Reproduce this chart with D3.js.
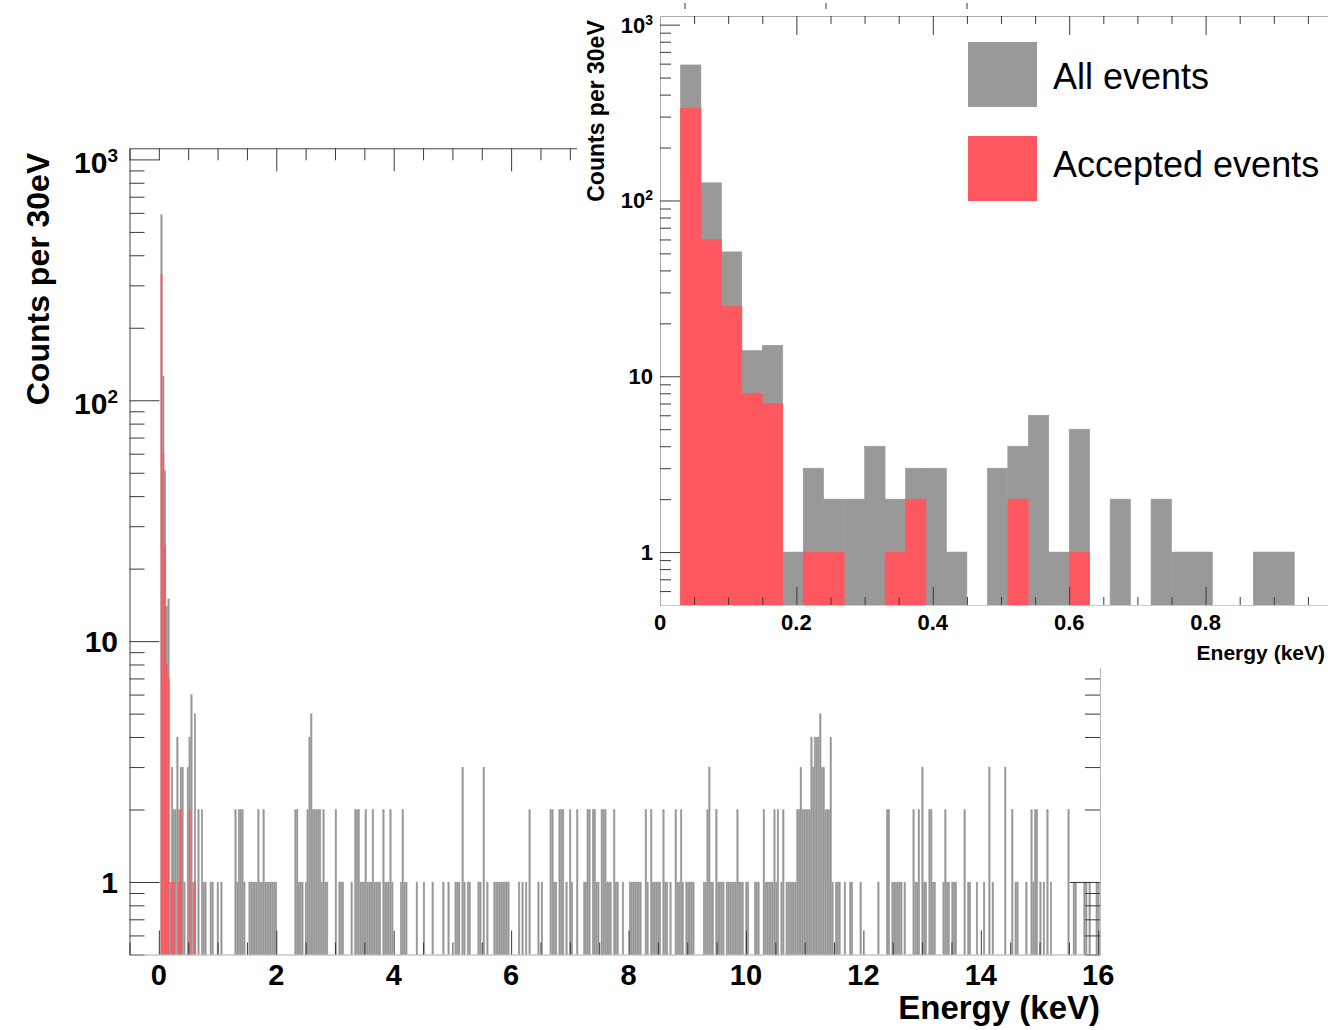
<!DOCTYPE html>
<html>
<head>
<meta charset="utf-8">
<script src="https://cdn.jsdelivr.net/npm/d3@7"></script>
<style>
	body { margin: 0; background: #fff; }
	svg { display: block; }
	text { font-family: "Liberation Sans", Arial, Helvetica, sans-serif; }
</style>
</head>
<body>
<div id="my_dataviz"></div>
<script>
// bin width of the histogram, keV
const binWidth = 0.03;

// all events, counts per 30 eV bin starting at 0 keV (20 bins per row)
const allCounts = [
	0, 590, 126, 51, 14, 15, 1, 3, 2, 2, 4, 2, 3, 3, 1, 0, 3, 4, 6, 1,
	5, 0, 2, 0, 2, 1, 1, 0, 0, 1, 1, 0, 0, 1, 0, 1, 0, 0, 0, 0,
	0, 0, 0, 2, 1, 2, 2, 2, 1, 0, 0, 1, 1, 1, 1, 1, 2, 1, 1, 2,
	1, 1, 1, 1, 1, 1, 1, 0, 0, 0, 0, 0, 0, 0, 0, 0, 0, 2, 2, 1,
	1, 1, 0, 1, 2, 4, 5, 2, 2, 2, 2, 2, 1, 2, 1, 1, 0, 0, 0, 0,
	2, 0, 1, 1, 1, 0, 0, 0, 0, 1, 0, 2, 2, 2, 1, 1, 1, 2, 1, 1,
	1, 2, 1, 1, 1, 1, 0, 2, 1, 1, 1, 2, 1, 0, 0, 0, 0, 1, 2, 1,
	1, 0, 0, 0, 0, 0, 1, 0, 0, 0, 1, 0, 0, 0, 0, 1, 0, 0, 0, 0,
	0, 1, 0, 0, 1, 0, 0, 0, 1, 1, 1, 0, 3, 1, 0, 1, 1, 0, 0, 0,
	0, 1, 1, 0, 3, 0, 1, 0, 0, 0, 1, 1, 1, 1, 1, 1, 1, 1, 1, 0,
	0, 0, 0, 0, 1, 0, 1, 0, 1, 0, 2, 0, 0, 0, 0, 1, 0, 1, 0, 0,
	0, 0, 2, 2, 1, 1, 0, 2, 2, 2, 0, 1, 0, 2, 1, 0, 0, 2, 0, 0,
	0, 1, 1, 2, 2, 0, 2, 2, 1, 1, 0, 2, 2, 2, 1, 1, 1, 0, 2, 1,
	1, 0, 0, 1, 0, 0, 0, 1, 1, 1, 1, 1, 1, 1, 0, 0, 2, 1, 0, 2,
	1, 1, 1, 1, 1, 0, 2, 1, 1, 0, 1, 0, 0, 2, 1, 1, 2, 1, 0, 1,
	1, 1, 1, 1, 0, 0, 0, 0, 0, 1, 1, 2, 3, 1, 1, 0, 2, 1, 1, 1,
	1, 0, 1, 1, 1, 1, 1, 1, 2, 1, 1, 1, 0, 1, 1, 0, 0, 0, 1, 1,
	1, 0, 0, 2, 1, 1, 1, 1, 1, 2, 1, 2, 0, 1, 2, 0, 1, 1, 1, 1,
	1, 1, 2, 2, 3, 2, 2, 2, 2, 2, 4, 3, 4, 4, 4, 5, 3, 3, 2, 2,
	2, 4, 1, 0, 1, 1, 1, 0, 0, 1, 0, 0, 1, 1, 0, 0, 0, 0, 1, 0,
	0, 0, 0, 0, 0, 0, 0, 0, 1, 0, 0, 0, 0, 2, 2, 0, 1, 1, 1, 1,
	1, 1, 0, 1, 0, 0, 0, 0, 2, 1, 1, 2, 0, 3, 1, 1, 0, 2, 2, 1,
	1, 0, 0, 0, 0, 1, 2, 1, 1, 0, 1, 1, 1, 0, 0, 0, 0, 2, 0, 1,
	1, 0, 0, 0, 1, 0, 0, 0, 1, 0, 0, 3, 0, 1, 0, 0, 0, 0, 0, 0,
	3, 0, 0, 0, 2, 0, 1, 1, 0, 0, 0, 0, 1, 0, 0, 2, 1, 2, 2, 0,
	1, 0, 1, 0, 2, 0, 1, 0, 0, 0, 0, 0, 0, 0, 0, 0, 2, 0, 0, 1,
	1, 0, 0, 0, 0, 1, 1, 0, 1, 0, 0, 0, 1, 1
];

// accepted events, same bins (all later bins are empty)
const acceptedCounts = [
	0, 335, 60, 25, 8, 7, 0, 1, 1, 0, 0, 1, 2, 0, 0, 0, 0, 2, 0, 0,
	1
];

// axis ticks and labels
const decadeTicks = [1, 10, 100, 1000];
const decadeLabels = [["1", ""], ["10", ""], ["10", "2"], ["10", "3"]];
const mainXTicks = [0, 2, 4, 6, 8, 10, 12, 14, 16];
const insetXTicks = [0, 0.2, 0.4, 0.6, 0.8];
const insetXLabels = ["0", "0.2", "0.4", "0.6", "0.8"];
const seriesNames = ["All events", "Accepted events"];
const seriesColors = ["#999999", "#ff5760"];

const bins = allCounts.map((c, i) => ({
	x0: i * binWidth,
	x1: (i + 1) * binWidth,
	all: c,
	acc: acceptedCounts[i] || 0
}));

// minor ticks of a log axis between 0.5 and max
function logMinor(max) {
	const out = [];
	[0.1, 1, 10, 100, 1000].forEach(d => {
		for (let k = 2; k <= 9; k++) {
			const v = d * k;
			if (v >= 0.5 && v <= max) out.push(v);
		}
	});
	return out;
}

const svg = d3.select("#my_dataviz")
	.append("svg")
	.attr("width", 1328)
	.attr("height", 1030);

// ---------------- main plot ----------------
const x = d3.scaleLinear().domain([-0.5, 16.03]).range([129.5, 1100]);
const y = d3.scaleLog().domain([0.5, 1112]).range([954.5, 148.3]);

const main = svg.append("g");

// gray histogram
main.append("g")
	.selectAll("rect")
	.data(bins.filter(d => d.all > 0))
	.join("rect")
	.attr("x", d => x(d.x0))
	.attr("width", d => x(d.x1) - x(d.x0))
	.attr("y", d => y(d.all))
	.attr("height", d => y(0.5) - y(d.all))
	.attr("fill", "#979797")
	.attr("stroke", "#a6a6a6")
	.attr("stroke-width", 0.3);

// red histogram
main.append("g")
	.selectAll("rect")
	.data(bins.filter(d => d.acc > 0))
	.join("rect")
	.attr("x", d => x(d.x0))
	.attr("width", d => x(d.x1) - x(d.x0))
	.attr("y", d => y(d.acc))
	.attr("height", d => y(0.5) - y(d.acc))
	.attr("fill", seriesColors[1]);

const mainMinorX = d3.range(-0.5, 16.01, 0.5).filter(v => v % 2 !== 0);
const mainMinorY = logMinor(1112);

function styleAxis(g, color) {
	g.attr("color", "#3a3a3a");
	g.select(".domain").attr("stroke", color || "none");
	g.selectAll(".tick text").remove();
}

// left axis
main.append("g")
	.attr("transform", `translate(${x(-0.5)},0)`)
	.call(d3.axisLeft(y).tickValues(decadeTicks).tickSize(-30).tickSizeOuter(0))
	.call(g => styleAxis(g, "#444"));
main.append("g")
	.attr("transform", `translate(${x(-0.5)},0)`)
	.call(d3.axisLeft(y).tickValues(mainMinorY).tickSize(-15).tickSizeOuter(0))
	.call(g => styleAxis(g));

// right axis
main.append("g")
	.attr("transform", `translate(${x(16.03)},0)`)
	.call(d3.axisRight(y).tickValues(decadeTicks).tickSize(-30).tickSizeOuter(0))
	.call(g => styleAxis(g, "#bbb"));
main.append("g")
	.attr("transform", `translate(${x(16.03)},0)`)
	.call(d3.axisRight(y).tickValues(mainMinorY).tickSize(-15).tickSizeOuter(0))
	.call(g => styleAxis(g));

// top axis
main.append("g")
	.attr("transform", `translate(0,${y(1112)})`)
	.call(d3.axisTop(x).tickValues(mainXTicks.filter(v => v > 0)).tickSize(-23).tickSizeOuter(0))
	.call(g => styleAxis(g, "#444"));
main.append("g")
	.attr("transform", `translate(0,${y(1112)})`)
	.call(d3.axisTop(x).tickValues(mainMinorX.concat([0])).tickSize(-12).tickSizeOuter(0))
	.call(g => styleAxis(g));

// bottom axis
main.append("g")
	.attr("transform", `translate(0,${y(0.5)})`)
	.call(d3.axisBottom(x).tickValues(mainXTicks).tickSize(-24).tickSizeOuter(0))
	.call(g => styleAxis(g, "#aaa"));
main.append("g")
	.attr("transform", `translate(0,${y(0.5)})`)
	.call(d3.axisBottom(x).tickValues(mainMinorX).tickSize(-12).tickSizeOuter(0))
	.call(g => styleAxis(g));

// x tick labels
main.append("g")
	.selectAll("text")
	.data(mainXTicks)
	.join("text")
	.attr("x", d => x(d))
	.attr("y", 985)
	.attr("text-anchor", "middle")
	.style("font-size", "29px")
	.style("font-weight", "bold")
	.text(d => d);

// y tick labels
const yLab = main.append("g")
	.selectAll("text")
	.data(decadeTicks)
	.join("text")
	.attr("x", 118)
	.attr("y", (d, i) => y(d) + (decadeLabels[i][1] ? 14 : 11))
	.attr("text-anchor", "end")
	.style("font-size", "30px")
	.style("font-weight", "bold")
	.text((d, i) => decadeLabels[i][0]);
yLab.filter((d, i) => decadeLabels[i][1])
	.append("tspan")
	.attr("dy", -11)
	.style("font-size", "19px")
	.text(d => decadeLabels[decadeTicks.indexOf(d)][1]);

// axis titles
main.append("text")
	.attr("transform", "translate(49,279) rotate(-90)")
	.attr("text-anchor", "middle")
	.style("font-size", "32px")
	.style("font-weight", "bold")
	.text("Counts per 30eV");

main.append("text")
	.attr("x", 1100)
	.attr("y", 1019)
	.attr("text-anchor", "end")
	.style("font-size", "33px")
	.style("font-weight", "bold")
	.text("Energy (keV)");

// ---------------- inset ----------------
const ix = d3.scaleLinear().domain([0, 1]).range([660, 1342]);
const iy = d3.scaleLog().domain([0.5, 1120]).range([605, 16]);

const inset = svg.append("g");

inset.append("rect")
	.attr("x", 577)
	.attr("y", 0)
	.attr("width", 1328 - 577)
	.attr("height", 668)
	.attr("fill", "#fff");

// small ticks above the inset frame
inset.append("g")
	.selectAll("line")
	.data(d3.range(3))
	.join("line")
	.attr("x1", d => 685 + d * 141)
	.attr("x2", d => 685 + d * 141)
	.attr("y1", 3)
	.attr("y2", 9)
	.attr("stroke", "#555")
	.attr("stroke-width", 1.2);

inset.append("clipPath")
	.attr("id", "insetClip")
	.append("rect")
	.attr("x", 660)
	.attr("y", 16)
	.attr("width", 1328 - 660)
	.attr("height", 605 - 16);

const insetBins = bins.filter(d => d.x0 < 1);

inset.append("g")
	.attr("clip-path", "url(#insetClip)")
	.selectAll("rect")
	.data(insetBins.filter(d => d.all > 0))
	.join("rect")
	.attr("x", d => ix(d.x0))
	.attr("width", d => ix(d.x1) - ix(d.x0))
	.attr("y", d => iy(d.all))
	.attr("height", d => iy(0.5) - iy(d.all))
	.attr("fill", seriesColors[0])
	.attr("stroke", seriesColors[0])
	.attr("stroke-width", 0.6);

inset.append("g")
	.attr("clip-path", "url(#insetClip)")
	.selectAll("rect")
	.data(insetBins.filter(d => d.acc > 0))
	.join("rect")
	.attr("x", d => ix(d.x0))
	.attr("width", d => ix(d.x1) - ix(d.x0))
	.attr("y", d => iy(d.acc))
	.attr("height", d => iy(0.5) - iy(d.acc))
	.attr("fill", seriesColors[1])
	.attr("stroke", seriesColors[1])
	.attr("stroke-width", 0.6);

const insetMinorX = d3.range(0.05, 1.0, 0.05).filter(v => Math.abs(v / 0.2 - Math.round(v / 0.2)) > 1e-6);
const insetMinorY = logMinor(1120);

// inset left axis
inset.append("g")
	.attr("transform", `translate(${ix(0)},0)`)
	.call(d3.axisLeft(iy).tickValues(decadeTicks).tickSize(-20).tickSizeOuter(0))
	.call(g => styleAxis(g, "#aaa"));
inset.append("g")
	.attr("transform", `translate(${ix(0)},0)`)
	.call(d3.axisLeft(iy).tickValues(insetMinorY).tickSize(-11).tickSizeOuter(0))
	.call(g => styleAxis(g));

// inset top axis
inset.append("g")
	.attr("transform", `translate(0,${iy(1120)})`)
	.call(d3.axisTop(ix).tickValues(insetXTicks.filter(v => v > 0)).tickSize(-19).tickSizeOuter(0))
	.call(g => styleAxis(g, "#aaa"));
inset.append("g")
	.attr("transform", `translate(0,${iy(1120)})`)
	.call(d3.axisTop(ix).tickValues(insetMinorX).tickSize(-8).tickSizeOuter(0))
	.call(g => styleAxis(g));

// inset bottom axis
inset.append("g")
	.attr("transform", `translate(0,${iy(0.5)})`)
	.call(d3.axisBottom(ix).tickValues(insetXTicks.filter(v => v > 0)).tickSize(-18).tickSizeOuter(0))
	.call(g => styleAxis(g, "#f3b9bd"));
inset.append("g")
	.attr("transform", `translate(0,${iy(0.5)})`)
	.call(d3.axisBottom(ix).tickValues(insetMinorX).tickSize(-8).tickSizeOuter(0))
	.call(g => styleAxis(g));

// inset tick labels
inset.append("g")
	.selectAll("text")
	.data(insetXTicks)
	.join("text")
	.attr("x", d => ix(d))
	.attr("y", 630)
	.attr("text-anchor", "middle")
	.style("font-size", "22px")
	.style("font-weight", "bold")
	.text((d, i) => insetXLabels[i]);

const iyLab = inset.append("g")
	.selectAll("text")
	.data(decadeTicks)
	.join("text")
	.attr("x", 653)
	.attr("y", d => iy(d) + 8)
	.attr("text-anchor", "end")
	.style("font-size", "22px")
	.style("font-weight", "bold")
	.text((d, i) => decadeLabels[i][0]);
iyLab.filter((d, i) => decadeLabels[i][1])
	.append("tspan")
	.attr("dy", -8)
	.style("font-size", "14px")
	.text(d => decadeLabels[decadeTicks.indexOf(d)][1]);

inset.append("text")
	.attr("transform", "translate(604,111) rotate(-90)")
	.attr("text-anchor", "middle")
	.style("font-size", "23px")
	.style("font-weight", "bold")
	.text("Counts per 30eV");

// kept inside the picture and below the 0.8 label
inset.append("text")
	.attr("x", 1325)
	.attr("y", 660)
	.attr("text-anchor", "end")
	.style("font-size", "21px")
	.style("font-weight", "bold")
	.text("Energy (keV)");

// legend
const legend = inset.append("g")
	.attr("transform", "translate(968,42)");

legend.selectAll("rect")
	.data(seriesNames)
	.join("rect")
	.attr("x", 0)
	.attr("y", (d, i) => i * 94)
	.attr("width", 69)
	.attr("height", 65)
	.attr("fill", (d, i) => seriesColors[i]);

legend.selectAll("text")
	.data(seriesNames)
	.join("text")
	.attr("x", 85)
	.attr("y", (d, i) => 47 + i * 88)
	.style("font-size", "36px")
	.text(d => d);
</script>
</body>
</html>
